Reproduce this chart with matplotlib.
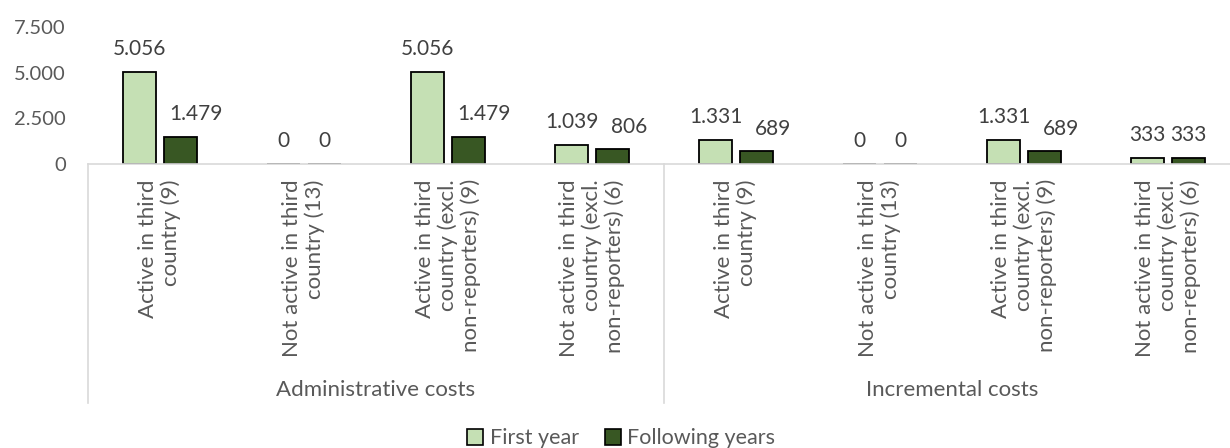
import matplotlib
matplotlib.use("Agg")
import matplotlib.pyplot as plt
import matplotlib.ticker as ticker
import matplotlib.transforms as mtransforms
from matplotlib.lines import Line2D
from matplotlib.patches import Patch
import numpy as np

# Cost estimates per company type, two cost groups of four categories each
groups = ["Administrative costs", "Incremental costs"]
categories = [
    "Active in third\ncountry (9)",
    "Not active in third\ncountry (13)",
    "Active in third\ncountry (excl.\nnon-reporters) (9)",
    "Not active in third\ncountry (excl.\nnon-reporters) (6)",
]
first_year = [5056, 0, 5056, 1039, 1331, 0, 1331, 333]
following_years = [1479, 0, 1479, 806, 689, 0, 689, 333]
y_ticks = [0, 2500, 5000, 7500]

COLOR_FIRST = "#c5e0b4"
COLOR_FOLLOW = "#385723"
TEXT_COLOR = "#595959"
LINE_COLOR = "#d9d9d9"

plt.rcParams["font.family"] = ["Lato", "DejaVu Sans"]


def eu_fmt(v):
    return f"{int(v):,}".replace(",", ".")


fig = plt.figure(figsize=(12.3, 4.48), dpi=100)
# the last group runs slightly past the right edge of the canvas
ax = fig.add_axes([0.0715, 0.634, 0.9366, 0.306])

n = len(first_year)
x = np.arange(n)
width = 0.23
off = 0.142

b1 = ax.bar(x - off, first_year, width, color=COLOR_FIRST, edgecolor="black", linewidth=1.3)
b2 = ax.bar(x + off, following_years, width, color=COLOR_FOLLOW, edgecolor="black", linewidth=1.3)

labels1, labels2 = [], []
for bars, vals, store in ((b1, first_year, labels1), (b2, following_years, labels2)):
    for bar, v in zip(bars, vals):
        t = ax.annotate(eu_fmt(v), (bar.get_x() + bar.get_width() / 2, v),
                        xytext=(0, 9), textcoords="offset points",
                        ha="center", va="bottom", fontsize=15, color="#404040")
        store.append(t)

ax.set_xlim(-0.5, n - 0.5)
ax.set_ylim(0, 7500)
ax.set_yticks(y_ticks)
ax.yaxis.set_major_formatter(ticker.FuncFormatter(lambda v, _: eu_fmt(v)))
ax.tick_params(axis="y", length=0, labelsize=14.5, labelcolor=TEXT_COLOR, pad=16)
ax.set_xticks([])
for side in ("top", "right", "left"):
    ax.spines[side].set_visible(False)
ax.spines["bottom"].set_color(LINE_COLOR)
ax.spines["bottom"].set_linewidth(1.2)

# Category labels (rotated) under each pair of bars
for i in range(n):
    ax.annotate(categories[i % len(categories)], (i, 0),
                xycoords=("data", "axes fraction"),
                xytext=(0, -11), textcoords="offset points",
                rotation=90, ha="center", va="top", multialignment="right",
                fontsize=16, color=TEXT_COLOR, linespacing=1.15)

# Group separators and group names
trans = mtransforms.blended_transform_factory(ax.transData, fig.transFigure)
for xs in (-0.5, 3.5, 7.5):
    fig.add_artist(Line2D([xs, xs], [0.634, 0.10], transform=trans,
                          color=LINE_COLOR, linewidth=1.2, clip_on=False))
for g, name in enumerate(groups):
    fig.text(1.5 + 4 * g, 0.13, name, transform=trans, ha="center", va="center",
             fontsize=16, color=TEXT_COLOR)

handles = [
    Patch(facecolor=COLOR_FIRST, edgecolor="black", linewidth=1.2, label="First year"),
    Patch(facecolor=COLOR_FOLLOW, edgecolor="black", linewidth=1.2, label="Following years"),
]
fig.legend(handles=handles, loc="center", bbox_to_anchor=(0.505, 0.022), ncol=2,
           frameon=False, fontsize=15.5, handlelength=0.75, handleheight=0.75,
           handletextpad=0.3, columnspacing=1.2, labelcolor=TEXT_COLOR)

# Push a "following years" label to the right when it would collide with
# the neighbouring first-year bar or label
fig.canvas.draw()
renderer = fig.canvas.get_renderer()
gap_px = 13
for bar, t1, t2 in zip(b1, labels1, labels2):
    bb2 = t2.get_window_extent(renderer)
    right = None
    for other in (t1.get_window_extent(renderer), bar.get_window_extent(renderer)):
        if other.x1 + 2 > bb2.x0 and other.y1 > bb2.y0 and other.y0 < bb2.y1:
            right = other.x1 if right is None else max(right, other.x1)
    if right is not None:
        shift = (right + gap_px - bb2.x0) * 72 / fig.dpi
        t2.set_position((shift, 9))

fig.savefig("out.png", dpi=100)
